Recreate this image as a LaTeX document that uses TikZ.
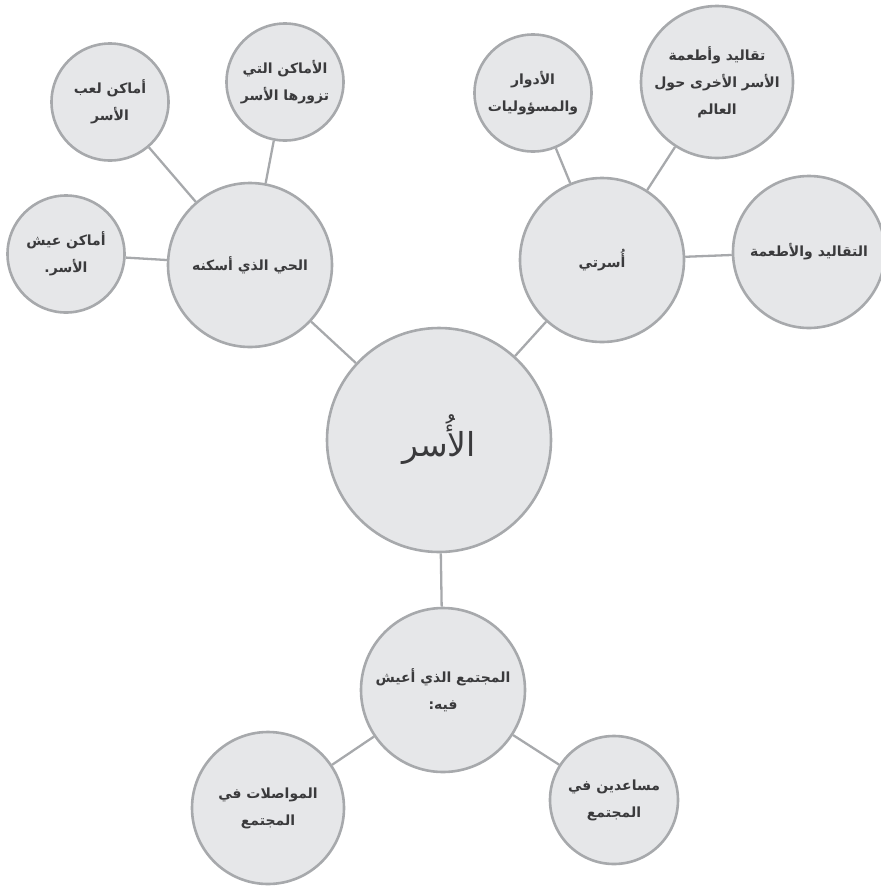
\documentclass[tikz,border=0pt]{standalone}
\usepackage{fontspec}
\usepackage{tikz}
\usetikzlibrary{positioning}
\newfontfamily\arabicfont[Script=Arabic]{DejaVu Sans}
\TeXXeTstate=1
\definecolor{bubblefill}{HTML}{E6E7E9}
\definecolor{bubbleline}{HTML}{A7A9AC}
\definecolor{bubbletext}{HTML}{3A3A3C}
\newcommand{\artxt}[1]{\beginR #1\endR}

\begin{document}
\begin{tikzpicture}[x=1pt, y=-1pt,
every node/.style = {circle, draw=bubbleline, fill=bubblefill, line width=2.6pt, inner sep=1pt,
    align=center, text=bubbletext, font=\arabicfont\bfseries\fontsize{14}{27}\selectfont},
link/.style = {draw=bubbleline, line width=2.3pt}]
\useasboundingbox (0,0) rectangle (881,887);

\node[minimum size=224pt, font=\arabicfont\fontsize{33}{38}\selectfont] (r) at (439,440) {\artxt{الأُسر}};

\node[minimum size=164pt] (n) at (250,265) {\artxt{الحي الذي أسكنه}};
\node[minimum size=117pt] (n1) at (110,102) {\artxt{أماكن لعب}\\\artxt{الأسر}};
\node[minimum size=117pt] (n2) at (285,82) {\artxt{الأماكن التي}\\\artxt{تزورها الأسر}};
\node[minimum size=117pt] (n3) at (66,254) {\artxt{أماكن عيش}\\\artxt{الأسر.}};

\node[minimum size=164pt] (f) at (602,260) {\artxt{أُسرتي}};
\node[minimum size=117pt] (f1) at (533,93) {\artxt{الأدوار}\\\artxt{والمسؤوليات}};
\node[minimum size=152pt] (f2) at (717,82) {\artxt{تقاليد وأطعمة}\\\artxt{الأسر الأخرى حول}\\\artxt{العالم}};
\node[minimum size=152pt] (f3) at (809,252) {\artxt{التقاليد والأطعمة}};

\node[minimum size=164pt] (c) at (443,690) {\artxt{المجتمع الذي أعيش}\\\artxt{فيه:}};
\node[minimum size=152pt] (c1) at (268,808) {\artxt{المواصلات في}\\\artxt{المجتمع}};
\node[minimum size=128pt] (c2) at (614,800) {\artxt{مساعدين في}\\\artxt{المجتمع}};

\draw[link] (r) edge (n) edge (f) edge (c);
\draw[link] (n) edge (n1) edge (n2) edge (n3);
\draw[link] (f) edge (f1) edge (f2) edge (f3);
\draw[link] (c) edge (c1) edge (c2);
\end{tikzpicture}
\end{document}
